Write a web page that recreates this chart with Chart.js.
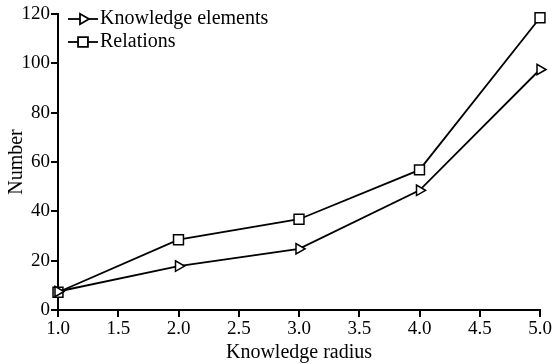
<!DOCTYPE html>
<html>
<head>
<meta charset="utf-8">
<script src="https://cdn.jsdelivr.net/npm/chart.js@4/dist/chart.umd.min.js"></script>
<style>
  html, body { margin: 0; padding: 0; background: #fff; }
  #wrap { width: 553px; height: 364px; position: relative; }
</style>
</head>
<body>
<div id="wrap"><canvas id="c"></canvas></div>
<script>
const radius = [1, 2, 3, 4, 5];
const knowledgeElements = [7.5, 17.8, 24.8, 48.5, 97.5];
const relations = [7.2, 28.5, 36.8, 56.8, 118.5];
const xTicks = [1.0, 1.5, 2.0, 2.5, 3.0, 3.5, 4.0, 4.5, 5.0];
const yTicks = [0, 20, 40, 60, 80, 100, 120];

const FONT = 'Liberation Serif';

// legend drawn inside the plot, top-left, stacked rows
const insideLegend = {
  id: 'insideLegend',
  afterDraw(chart) {
    const { ctx, chartArea } = chart;
    const x0 = chartArea.left + 10;
    let y = chartArea.top + 5;
    chart.data.datasets.forEach(ds => {
      ctx.save();
      ctx.strokeStyle = '#000';
      ctx.lineWidth = 1.8;
      ctx.beginPath();
      ctx.moveTo(x0, y);
      ctx.lineTo(x0 + 30, y);
      ctx.stroke();
      Chart.helpers.drawPoint(ctx, {
        pointStyle: ds.pointStyle,
        rotation: ds.pointRotation || 0,
        radius: ds.pointRadius,
        borderWidth: ds.pointBorderWidth
      }, x0 + 15, y);
      ctx.fillStyle = '#000';
      ctx.font = '20px "' + FONT + '"';
      ctx.textBaseline = 'middle';
      ctx.fillText(ds.label, x0 + 32, y);
      ctx.restore();
      y += 23;
    });
  }
};

new Chart(document.getElementById('c'), {
  type: 'line',
  data: {
    datasets: [
      {
        label: 'Knowledge elements',
        data: radius.map((r, i) => ({ x: r, y: knowledgeElements[i] })),
        borderColor: '#000',
        backgroundColor: '#fff',
        borderWidth: 1.8,
        pointStyle: 'triangle',
        pointRotation: 90,
        pointRadius: 6,
        pointBorderWidth: 1.5,
        pointBackgroundColor: '#fff',
        pointBorderColor: '#000',
        tension: 0
      },
      {
        label: 'Relations',
        data: radius.map((r, i) => ({ x: r, y: relations[i] })),
        borderColor: '#000',
        backgroundColor: '#fff',
        borderWidth: 1.8,
        pointStyle: 'rect',
        pointRadius: 7,
        pointBorderWidth: 1.5,
        pointBackgroundColor: '#fff',
        pointBorderColor: '#000',
        tension: 0
      }
    ]
  },
  options: {
    responsive: true,
    maintainAspectRatio: false,
    animation: false,
    clip: false,
    layout: { padding: { top: 14, right: 13, left: 0, bottom: 0 } },
    plugins: {
      legend: { display: false },
      tooltip: { enabled: false }
    },
    scales: {
      x: {
        type: 'linear',
        min: 1, max: 5,
        afterBuildTicks: axis => { axis.ticks = xTicks.map(v => ({ value: v })); },
        afterFit: axis => { axis.height = 54; },
        ticks: {
          color: '#000',
          font: { family: FONT, size: 19 },
          padding: 1,
          maxRotation: 0,
          callback: v => v.toFixed(1)
        },
        grid: { drawOnChartArea: false, drawTicks: true, tickLength: 7, color: '#000', lineWidth: 2 },
        border: { color: '#000', width: 2 },
        title: { display: true, text: 'Knowledge radius', color: '#000', font: { family: FONT, size: 20 }, padding: { top: 0, bottom: -1 } }
      },
      y: {
        min: 0, max: 120,
        afterBuildTicks: axis => { axis.ticks = yTicks.map(v => ({ value: v })); },
        afterFit: axis => { axis.width = 58; },
        ticks: {
          color: '#000',
          font: { family: FONT, size: 19 },
          padding: 1
        },
        grid: { drawOnChartArea: false, drawTicks: true, tickLength: 7, color: '#000', lineWidth: 2 },
        border: { color: '#000', width: 2 },
        title: { display: true, text: 'Number', color: '#000', font: { family: FONT, size: 20 }, padding: { top: 5, bottom: 0 } }
      }
    }
  },
  plugins: [insideLegend]
});
</script>
</body>
</html>
